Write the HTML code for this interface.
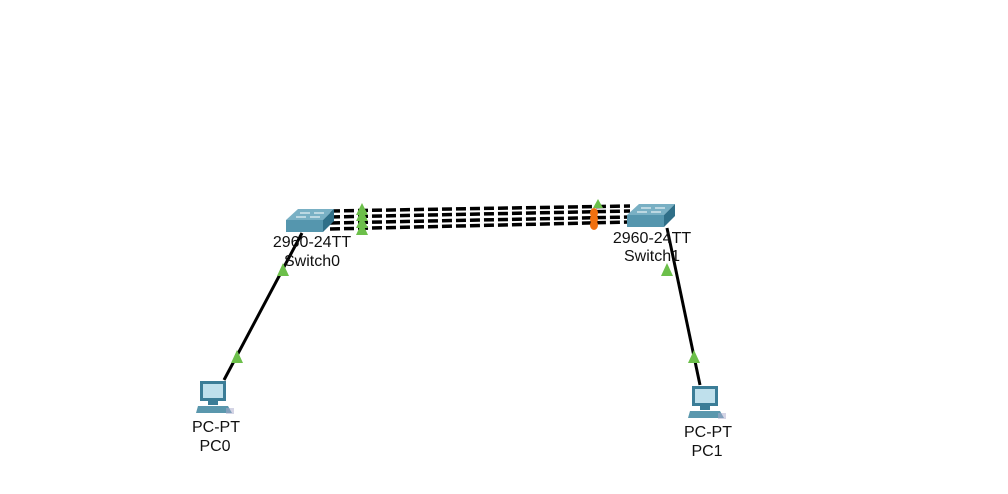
<!DOCTYPE html>
<html><head><style>
body{margin:0;background:#fff;}
svg text{font-family:"Liberation Sans",sans-serif;font-size:16px;fill:#111;text-anchor:middle;}
</style></head><body>
<svg width="1008" height="489" xmlns="http://www.w3.org/2000/svg">
<defs>
<g id="sw">
<polygon points="0,11 12,0 48,0 37,11" fill="#79b0c4"/>
<polygon points="0,11 37,11 37,23 0,23" fill="#5596ae"/>
<polygon points="37,11 48,0 48,12 37,23" fill="#2f6f88"/>
<g stroke="#fff" stroke-width="1"><line x1="14" y1="4" x2="24" y2="4"/><line x1="28" y1="4" x2="38" y2="4"/><line x1="10" y1="8" x2="20" y2="8"/><line x1="24" y1="8" x2="34" y2="8"/></g>
</g>
<g id="pc">
<rect x="4" y="0" width="26" height="20" fill="#3b7d97"/>
<rect x="7" y="3" width="20" height="14" fill="#bfe0ec"/>
<rect x="12" y="20" width="10" height="4" fill="#3b7d97"/>
<polygon points="2,25 32,25 36,32 0,32" fill="#5a97ad"/>
<rect x="30" y="27" width="8" height="6" fill="#aac" opacity=".5"/>
</g>
</defs>
<g stroke="#000" stroke-width="3">
<line x1="224" y1="380" x2="302" y2="233"/>
<line x1="700" y1="385" x2="667" y2="228"/>
</g>
<g stroke="#000" stroke-width="3.5" stroke-dasharray="10,4">
<line x1="330" y1="211" x2="630" y2="206"/>
<line x1="330" y1="217" x2="630" y2="211"/>
<line x1="330" y1="223" x2="630" y2="217"/>
<line x1="330" y1="229" x2="630" y2="222"/>
</g>
<use href="#sw" x="286" y="209"/>
<use href="#sw" x="627" y="204"/>
<g fill="#6cbf4a">
<polygon points="362,203 356,215 368,215"/>
<polygon points="362,209 356,221 368,221"/>
<polygon points="362,216 356,228 368,228"/>
<polygon points="362,222 356,235 368,235"/>
<polygon points="598,199 593,208 603,208"/>
<polygon points="237,350 231,363 243,363"/>
<polygon points="283,263 277,276 289,276"/>
<polygon points="694,350 688,363 700,363"/>
<polygon points="667,263 661,276 673,276"/>
</g>
<g fill="#f07010">
<ellipse cx="594" cy="213" rx="4" ry="5"/>
<ellipse cx="594" cy="219" rx="4" ry="5"/>
<ellipse cx="594" cy="225" rx="4" ry="5"/>
</g>
<use href="#pc" x="196" y="381"/>
<use href="#pc" x="688" y="386"/>
<text x="312" y="247">2960-24TT</text>
<text x="312" y="266">Switch0</text>
<text x="652" y="243">2960-24TT</text>
<text x="652" y="261">Switch1</text>
<text x="216" y="432">PC-PT</text>
<text x="215" y="451">PC0</text>
<text x="708" y="437">PC-PT</text>
<text x="707" y="456">PC1</text>
</svg>
</body></html>
